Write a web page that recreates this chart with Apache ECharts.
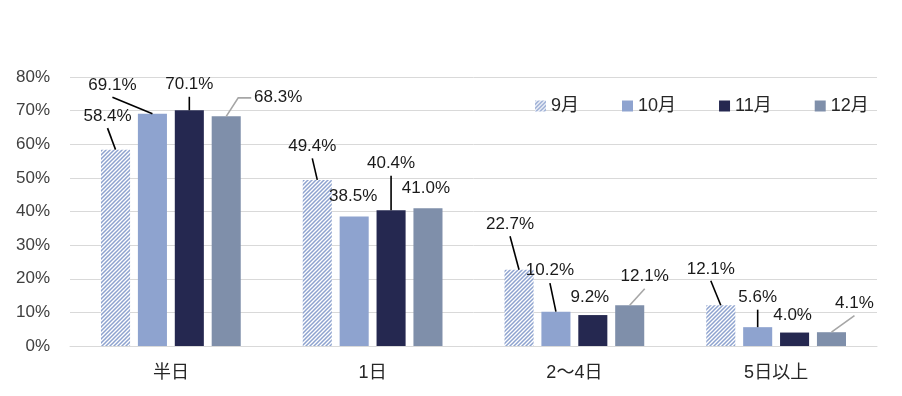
<!DOCTYPE html>
<html>
<head>
<meta charset="utf-8">
<script src="https://cdn.jsdelivr.net/npm/echarts@6/dist/echarts.min.js"></script>
<style>
html,body{margin:0;padding:0;background:#fff;}
#chart{width:902px;height:396px;}
</style>
</head>
<body>
<div id="chart"></div>
<script>
// ---- data ----
var categories = ['半日', '1日', '2〜4日', '5日以上'];
var seriesNames = ['9月', '10月', '11月', '12月'];
var sep = [58.4, 49.4, 22.7, 12.1];
var oct = [69.1, 38.5, 10.2, 5.6];
var nov = [70.1, 40.4, 9.2, 4.0];
var dec = [68.3, 41.0, 12.1, 4.1];
var yTicks = [0, 10, 20, 30, 40, 50, 60, 70, 80];

// ---- label layout (pixel offsets from the default "top" label position) ----
var labelDx = [
  [-8, -5, -9, -10],
  [-40, -1, -6, 0],
  [0, 0, -3, -2],
  [52, -2, 15, 23]
];
var labelDy = [
  [-20, -20, -32, -23],
  [-15, -7, -28, -16],
  [-12, -33, -4, -4],
  [-6, -6, -16, -15]
];
var showLine = [
  [true, true, true, true],
  [true, false, true, true],
  [true, true, false, false],
  [true, false, true, true]
];
// leader line end relative to label centre, and horizontal elbow length
var lineEndX = [[0, 0, 0, 0], [0, 0, 0, 0], [0, 0, 0, 0], [-27, 0, 0, 0]];
var lineEndY = [[12, 12, 12, 12], [12, 12, 13, 12], [12, 12, 12, 12], [1, 12, 13, 12]];
var elbow = [[0, 0, 0, 0], [0, 0, 0, 0], [0, 0, 0, 0], [13, 0, 0, 0]];

var BAR_W = 0.144;   // fraction of band
var BAR_GAP = 0.27;  // fraction of bar width

// hatch pattern
var pc = document.createElement('canvas');
pc.width = 4; pc.height = 4;
var ctx = pc.getContext('2d');
ctx.fillStyle = '#ffffff';
ctx.fillRect(0, 0, 4, 4);
ctx.strokeStyle = '#8ea3cf';
ctx.lineWidth = 1.5;
ctx.beginPath();
ctx.moveTo(-1, 5); ctx.lineTo(5, -1);
ctx.moveTo(-1, 1); ctx.lineTo(1, -1);
ctx.moveTo(3, 5); ctx.lineTo(5, 3);
ctx.stroke();

var colors = [{image: pc, repeat: 'repeat'}, '#8ea3cf', '#252850', '#7f8faa'];
var lineColors = ['#000000', '#000000', '#000000', '#a6a6a6'];
var allData = [sep, oct, nov, dec];
var numFont = "'Liberation Sans', 'Noto Sans CJK JP', sans-serif";
var LABEL_FS = 17;

var chart = echarts.init(document.getElementById('chart'), null, {renderer: 'canvas'});
var series = allData.map(function (arr, si) {
  return {
    name: seriesNames[si],
    type: 'bar',
    barWidth: (BAR_W * 100) + '%',
    barGap: (BAR_GAP * 100) + '%',
    itemStyle: {color: colors[si]},
    data: arr,
    z: 2,
    label: {
      show: true,
      position: 'top',
      distance: 5,
      color: '#1a1a1a',
      fontSize: LABEL_FS,
      fontFamily: numFont,
      formatter: function (p) { return p.value.toFixed(1) + '%'; }
    },
    labelLayout: function (p) {
      return {dx: labelDx[si][p.dataIndex], dy: labelDy[si][p.dataIndex]};
    }
  };
});

// leader lines
var lineData = [];
allData.forEach(function (arr, si) {
  arr.forEach(function (v, ci) {
    if (showLine[si][ci]) lineData.push([ci, v, si]);
  });
});
series.push({
  type: 'custom',
  name: 'leader',
  silent: true,
  z: 5,
  data: lineData,
  renderItem: function (params, api) {
    var ci = api.value(0), v = api.value(1), si = api.value(2);
    var p = api.coord([ci, v]);
    var band = api.size([1, 0])[0];
    var bw = band * BAR_W;
    var x = p[0] + (si - 1.5) * bw * (1 + BAR_GAP);
    var y = p[1];
    var lcx = x + labelDx[si][ci];
    var lcy = y - 5 - LABEL_FS / 2 + labelDy[si][ci];
    var ex = lcx + lineEndX[si][ci];
    var ey = lcy + lineEndY[si][ci];
    var pts = [[x, y]];
    if (elbow[si][ci] > 0) {
      pts.push([ex - elbow[si][ci], ey]);
    }
    pts.push([ex, ey]);
    return {
      type: 'polyline',
      shape: {points: pts},
      style: {stroke: lineColors[si], lineWidth: 1.6, fill: null}
    };
  }
});

chart.setOption({
  animation: false,
  backgroundColor: '#ffffff',
  grid: {left: 70, right: 25, top: 77, bottom: 50},
  legend: {
    data: seriesNames,
    left: 530,
    top: 92,
    itemWidth: 11,
    itemHeight: 11,
    itemGap: 43,
    icon: 'rect',
    textStyle: {fontSize: 18, color: '#262626', fontFamily: numFont}
  },
  xAxis: {
    type: 'category',
    data: categories,
    axisTick: {show: false},
    axisLine: {lineStyle: {color: '#d9d9d9', width: 1}},
    axisLabel: {fontSize: 18, color: '#262626', margin: 18, fontFamily: numFont}
  },
  yAxis: {
    type: 'value',
    min: yTicks[0],
    max: yTicks[yTicks.length - 1],
    interval: 10,
    axisLine: {show: false},
    axisTick: {show: false},
    splitLine: {lineStyle: {color: '#d9d9d9', width: 1}},
    axisLabel: {fontSize: 17, color: '#404040', margin: 20, fontFamily: numFont,
      formatter: '{value}%'}
  },
  series: series
});
</script>
</body>
</html>
